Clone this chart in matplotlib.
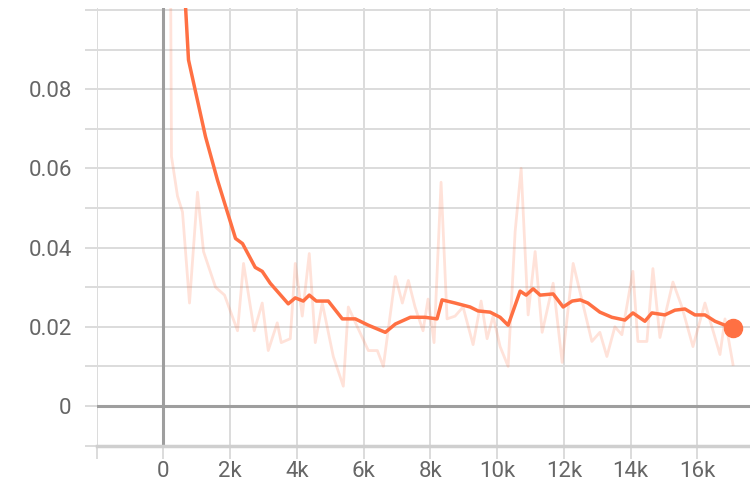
import matplotlib
matplotlib.use('Agg')
import matplotlib.pyplot as plt
from matplotlib.ticker import FuncFormatter

plt.rcParams['font.family'] = ['Roboto', 'DejaVu Sans']

# raw loss values (step in thousands)
raw_steps = [0.1, 0.24, 0.42, 0.57, 0.78, 1.02, 1.2, 1.56, 1.83, 2.22, 2.4, 2.72, 2.96, 3.14,
             3.41, 3.53, 3.8, 3.95, 4.16, 4.37, 4.55, 4.76, 5.09, 5.39, 5.54, 5.81, 6.14, 6.41,
             6.59, 6.95, 7.16, 7.34, 7.54, 7.78, 7.93, 8.11, 8.32, 8.5, 8.74, 8.98, 9.28, 9.52,
             9.7, 9.88, 10.09, 10.33, 10.54, 10.72, 10.93, 11.14, 11.35, 11.68, 11.95, 12.28,
             12.84, 13.08, 13.29, 13.53, 13.74, 14.07, 14.22, 14.49, 14.67, 14.88, 15.27, 15.54,
             15.87, 16.23, 16.68, 16.83, 17.07]
raw_loss = [0.3, 0.063, 0.053, 0.049, 0.026, 0.054, 0.039, 0.03, 0.028, 0.019, 0.036, 0.019,
            0.026, 0.014, 0.021, 0.016, 0.017, 0.036, 0.0227, 0.0385, 0.016, 0.026, 0.0125,
            0.005, 0.025, 0.02, 0.014, 0.014, 0.01, 0.0327, 0.026, 0.0317, 0.025, 0.019, 0.027,
            0.016, 0.0565, 0.022, 0.0227, 0.025, 0.0155, 0.0265, 0.017, 0.0227, 0.015, 0.01,
            0.044, 0.06, 0.023, 0.039, 0.0186, 0.031, 0.011, 0.036, 0.0163, 0.0186, 0.0125,
            0.02, 0.018, 0.034, 0.0163, 0.0163, 0.0347, 0.0173, 0.0313, 0.025, 0.015, 0.026,
            0.013, 0.022, 0.0105]

# smoothed curve as shown
smooth_steps = [0.3, 0.66, 0.75, 1.26, 1.62, 2.16, 2.37, 2.75, 2.96, 3.2, 3.74, 3.95, 4.19,
                4.37, 4.58, 4.94, 5.36, 5.75, 6.14, 6.65, 6.95, 7.4, 7.84, 8.2, 8.35, 8.74,
                9.19, 9.43, 9.79, 10.09, 10.33, 10.69, 10.87, 11.08, 11.29, 11.68, 11.98,
                12.25, 12.49, 12.72, 13.08, 13.44, 13.83, 14.07, 14.43, 14.64, 15.03, 15.33,
                15.63, 15.93, 16.23, 16.53, 17.07]
smooth_loss = [0.25, 0.101, 0.0874, 0.068, 0.057, 0.0423, 0.041, 0.035, 0.034, 0.031, 0.0258,
               0.0273, 0.0265, 0.028, 0.0265, 0.0265, 0.022, 0.022, 0.0204, 0.0186, 0.0207,
               0.0224, 0.0224, 0.022, 0.0268, 0.026, 0.025, 0.024, 0.0237, 0.0224, 0.0204,
               0.029, 0.028, 0.0296, 0.028, 0.0283, 0.025, 0.0265, 0.0268, 0.026, 0.0237,
               0.0224, 0.0217, 0.0235, 0.0214, 0.0235, 0.023, 0.0242, 0.0245, 0.023, 0.023,
               0.0214, 0.0196]

color = '#ff7043'
grid_c = '#dcdcdc'
axis_c = '#9e9e9e'

fig = plt.figure(figsize=(7.5, 5), dpi=100)
ax = fig.add_axes([0.129, 0.108, 0.871, 0.876])

xs = [s * 1000 for s in raw_steps]
sx = [s * 1000 for s in smooth_steps]
ax.plot(xs, raw_loss, color=color, alpha=0.2, lw=2.0, zorder=3)
ax.plot(sx, smooth_loss, color=color, lw=2.5, zorder=4, solid_joinstyle='round')
ax.plot(sx[-1], smooth_loss[-1], 'o', color=color, ms=13, zorder=5)

ax.set_xlim(-2000, 17580)
ax.set_ylim(-0.0101, 0.1005)

ax.set_xticks(range(-2000, 17000, 2000))
ax.set_yticks([i * 0.01 for i in range(-1, 11)])
ax.xaxis.set_major_formatter(FuncFormatter(lambda v, p: '' if v < 0 else ('0' if v == 0 else '%dk' % round(v / 1000))))
ax.yaxis.set_major_formatter(FuncFormatter(lambda v, p: ('0' if abs(v) < 1e-9 else '%.2f' % v) if round(v * 100) % 2 == 0 and v > -0.005 and v < 0.09 else ''))

ax.grid(True, color=grid_c, lw=1.4, zorder=0)
ax.axhline(0, color=axis_c, lw=2.2, zorder=2)
ax.axvline(0, color=axis_c, lw=2.2, zorder=2)
ax.axhline(-0.0101, color='#cfcfcf', lw=2.5, zorder=2, clip_on=False)

for sp in ax.spines.values():
    sp.set_visible(False)
ax.tick_params(axis='both', length=9, width=1.4, color=grid_c, labelcolor='#666666', labelsize=16)
ax.tick_params(axis='y', pad=9)
ax.tick_params(axis='x', pad=2)

fig.savefig('out.png', dpi=100)
